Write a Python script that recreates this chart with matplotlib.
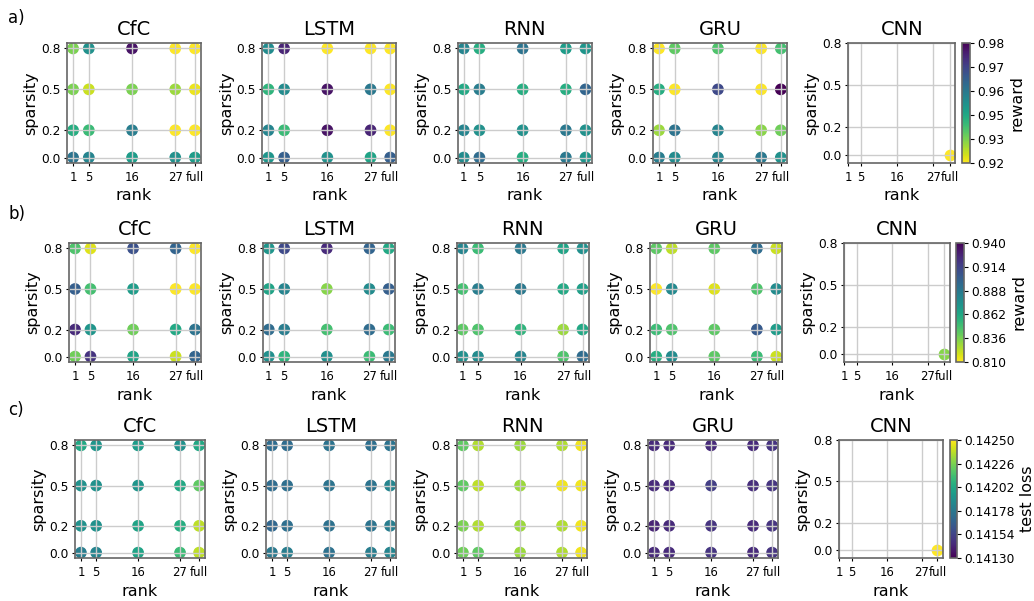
import numpy as np
import matplotlib
matplotlib.use("Agg")
import matplotlib.pyplot as plt

models = ["CfC", "LSTM", "RNN", "GRU", "CNN"]
ranks = [1, 5, 16, 27, 32]
rank_labels = ["1", "5", "16", "27", "full"]
sparsity = [0.8, 0.5, 0.2, 0.0]   # grid rows, top to bottom

# a) reward
cfc_a = [[0.9348, 0.9510, 0.9753, 0.9240, 0.9240],
         [0.9348, 0.9283, 0.9348, 0.9321, 0.9256],
         [0.9445, 0.9413, 0.9553, 0.9240, 0.9240],
         [0.9575, 0.9537, 0.9483, 0.9510, 0.9483]]
lstm_a = [[0.9521, 0.9726, 0.9240, 0.9240, 0.9240],
          [0.9429, 0.9521, 0.9753, 0.9564, 0.9240],
          [0.9537, 0.9413, 0.9753, 0.9726, 0.9240],
          [0.9499, 0.9618, 0.9510, 0.9467, 0.9618]]
rnn_a = [[0.9537, 0.9445, 0.9575, 0.9483, 0.9499],
         [0.9456, 0.9553, 0.9445, 0.9445, 0.9607],
         [0.9537, 0.9510, 0.9510, 0.9564, 0.9510],
         [0.9521, 0.9591, 0.9445, 0.9564, 0.9499]]
gru_a = [[0.9240, 0.9375, 0.9391, 0.9240, 0.9402],
         [0.9445, 0.9240, 0.9661, 0.9240, 0.9780],
         [0.9321, 0.9575, 0.9537, 0.9337, 0.9359],
         [0.9553, 0.9521, 0.9537, 0.9564, 0.9510]]
cnn_a = 0.9240

# b) reward
cfc_b = [[0.8464, 0.8165, 0.9075, 0.8984, 0.8100],
         [0.9010, 0.8490, 0.8685, 0.8100, 0.8100],
         [0.9244, 0.8724, 0.8386, 0.8620, 0.8906],
         [0.8386, 0.9205, 0.8646, 0.8204, 0.8984]]
lstm_b = [[0.8724, 0.9114, 0.9244, 0.8984, 0.8620],
          [0.8646, 0.8815, 0.8334, 0.8776, 0.9010],
          [0.8945, 0.8854, 0.8490, 0.8945, 0.8516],
          [0.8750, 0.8555, 0.8750, 0.8516, 0.8880]]
rnn_b = [[0.8815, 0.8516, 0.8880, 0.8646, 0.8750],
         [0.8490, 0.8854, 0.8880, 0.8620, 0.8672],
         [0.8425, 0.8464, 0.8555, 0.8295, 0.8620],
         [0.8750, 0.8776, 0.8815, 0.8464, 0.8945]]
gru_b = [[0.8425, 0.8230, 0.8425, 0.8945, 0.8204],
         [0.8100, 0.8789, 0.8165, 0.8464, 0.8776],
         [0.8516, 0.8464, 0.8425, 0.9036, 0.8685],
         [0.8594, 0.8776, 0.8425, 0.8516, 0.8204]]
cnn_b = 0.8334

# c) test loss
cfc_c = [[0.142020, 0.141924, 0.141960, 0.141900, 0.142020],
         [0.141900, 0.141900, 0.141924, 0.142020, 0.142200],
         [0.141900, 0.141900, 0.141996, 0.142044, 0.142380],
         [0.141804, 0.141840, 0.141996, 0.142116, 0.142380]]
lstm_c = [[0.141720, 0.141720, 0.141756, 0.141732, 0.141756],
          [0.141720, 0.141732, 0.141756, 0.141756, 0.141840],
          [0.141696, 0.141732, 0.141744, 0.141756, 0.141804],
          [0.141780, 0.141804, 0.141744, 0.141804, 0.141840]]
rnn_c = [[0.142200, 0.142356, 0.142320, 0.142356, 0.142476],
         [0.142200, 0.142380, 0.142320, 0.142476, 0.142476],
         [0.142260, 0.142356, 0.142320, 0.142356, 0.142476],
         [0.142236, 0.142200, 0.142320, 0.142356, 0.142476]]
gru_c = [[0.141444, 0.141444, 0.141444, 0.141444, 0.141480],
         [0.141444, 0.141444, 0.141516, 0.141456, 0.141480],
         [0.141420, 0.141444, 0.141480, 0.141444, 0.141480],
         [0.141444, 0.141444, 0.141480, 0.141444, 0.141480]]
cnn_c = 0.142500

panel_tags = ["a)", "b)", "c)"]
cbar_names = ["reward", "reward", "test loss"]
cbar_lims = [(0.924, 0.978), (0.810, 0.940), (0.14130, 0.14250)]
cbar_ticklabels = [["0.92", "0.93", "0.95", "0.96", "0.97", "0.98"],
                   ["0.810", "0.836", "0.862", "0.888", "0.914", "0.940"],
                   ["0.14130", "0.14154", "0.14178", "0.14202", "0.14226", "0.14250"]]
cmaps = ["viridis_r", "viridis_r", "viridis"]

grids = [[cfc_a, lstm_a, rnn_a, gru_a],
         [cfc_b, lstm_b, rnn_b, gru_b],
         [cfc_c, lstm_c, rnn_c, gru_c]]
cnn_vals = [cnn_a, cnn_b, cnn_c]

plt.rcParams["axes.edgecolor"] = "#666666"
plt.rcParams["axes.linewidth"] = 1.2

W, H = 1034, 601
fig = plt.figure(figsize=(W / 100, H / 100), dpi=100)

# layout in pixels, one entry per row
row_top = [43, 243, 440]
row_bot = [163, 362, 558]
row_left = [67, 69, 75]
row_w = [134, 132, 130]
row_step = [195.3, 193.75, 191]
tag_y = [18, 214, 410]


def px_box(x0, y0, x1, y1):
    return [x0 / W, 1 - y1 / H, (x1 - x0) / W, (y1 - y0) / H]


R, S = np.meshgrid(ranks, sparsity)

for i in range(3):
    vmin, vmax = cbar_lims[i]
    for j in range(5):
        x0 = row_left[i] + j * row_step[i]
        w = row_w[i] if j < 4 else 0.8 * row_w[i]
        ax = fig.add_axes(px_box(x0, row_top[i], x0 + w, row_bot[i]))
        if j < 4:
            vals = np.array(grids[i][j])
            sc = ax.scatter(R.ravel(), S.ravel(), c=vals.ravel(), cmap=cmaps[i],
                            vmin=vmin, vmax=vmax, s=55, zorder=1)
        else:
            sc = ax.scatter([ranks[-1]], [0.0], c=[cnn_vals[i]], cmap=cmaps[i],
                            vmin=vmin, vmax=vmax, s=55, zorder=1)
        ax.set_xticks(ranks)
        ax.set_xticklabels(rank_labels)
        ax.set_yticks(sparsity)
        ax.set_yticklabels([f"{v:.1f}" for v in sparsity])
        ax.tick_params(axis="y", labelsize=8.8, length=2.5, pad=2)
        ax.tick_params(axis="x", labelsize=8.4, length=2.5, pad=3.5)
        ax.grid(True, color="#cccccc", linewidth=1.0)
        ax.set_xlabel("rank", fontsize=11.5, labelpad=3)
        ax.set_ylabel("sparsity", fontsize=11.5, labelpad=2)
        ax.set_title(models[j], fontsize=14)
        if j == 4:
            ax.set_xlim(1, 33.76)
            ax.set_ylim(-0.055, 0.8)
            cx = x0 + 0.85 * row_w[i]
            cax = fig.add_axes(px_box(cx, row_top[i], cx + 8, row_bot[i]))
            cb = fig.colorbar(sc, cax=cax)
            cb.set_ticks(np.linspace(vmin, vmax, 6))
            cb.set_ticklabels(cbar_ticklabels[i])
            cb.ax.tick_params(labelsize=8.8, length=3, pad=2)
            cb.set_label(cbar_names[i], fontsize=11.5, labelpad=4)
    fig.text(8 / W, 1 - tag_y[i] / H, panel_tags[i], fontsize=12, va="center")

fig.savefig("out.png", dpi=100)
